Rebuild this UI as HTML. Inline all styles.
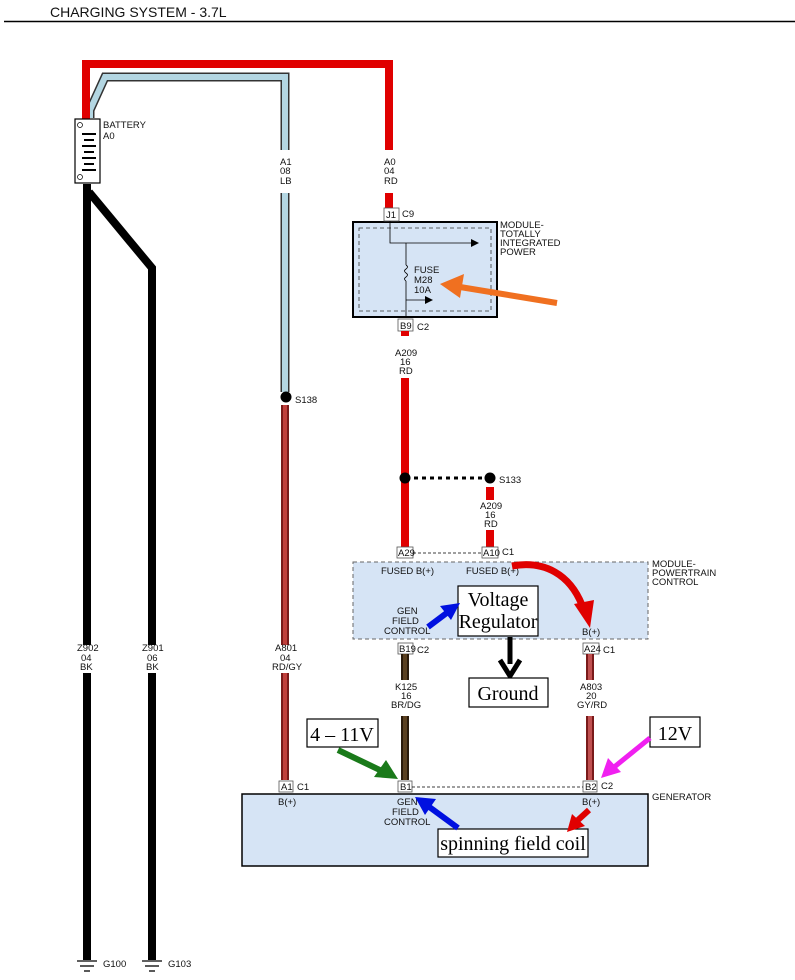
<!DOCTYPE html>
<html><head><meta charset="utf-8"><style>
html,body{margin:0;padding:0;background:#fff;}
svg{display:block;}
text{font-family:"Liberation Sans",sans-serif;font-size:9.5px;fill:#111;}
.s{font-family:"Liberation Serif",serif;font-size:20px;fill:#000;}
</style></head><body>
<svg width="795" height="980" viewBox="0 0 795 980" xmlns="http://www.w3.org/2000/svg">
<defs>
<marker id="ah" markerWidth="8" markerHeight="8" refX="7" refY="4" orient="auto" markerUnits="userSpaceOnUse"><path d="M0,0 L8,4 L0,8 z" fill="#000"/></marker>
</defs>
<text x="50" y="17" style="font-size:14px">CHARGING SYSTEM - 3.7L</text>
<line x1="4" y1="21.5" x2="795" y2="21.5" stroke="#000" stroke-width="1.5"/>

<path d="M90,118 L90,110 L105,77 L285,77 L285,150 M285,193 L285,392" fill="none" stroke="#333" stroke-width="9"/>
<path d="M90,118 L90,110 L105,77 L285,77 L285,150 M285,193 L285,392" fill="none" stroke="#b3d6e2" stroke-width="6"/>
<path d="M86,120 L86,64 L389,64 L389,150 M389,193 L389,208" fill="none" stroke="#e00000" stroke-width="8"/>
<text x="280" y="165">A1</text><text x="280" y="174">08</text><text x="280" y="184">LB</text>
<text x="384" y="165">A0</text><text x="384" y="174">04</text><text x="384" y="184">RD</text>

<rect x="75" y="119" width="25" height="64" fill="#fff" stroke="#000" stroke-width="1.2"/>
<circle cx="80" cy="125" r="2.5" fill="none" stroke="#000" stroke-width="0.7"/>
<circle cx="80" cy="177" r="2.5" fill="none" stroke="#000" stroke-width="0.7"/>
<g stroke="#000" stroke-width="2">
<line x1="82" y1="134" x2="96" y2="134"/><line x1="84" y1="140" x2="94" y2="140"/>
<line x1="82" y1="146" x2="96" y2="146"/><line x1="84" y1="152" x2="94" y2="152"/>
<line x1="82" y1="158" x2="96" y2="158"/><line x1="84" y1="164" x2="94" y2="164"/>
<line x1="82" y1="170" x2="96" y2="170"/></g>
<text x="103" y="128">BATTERY</text><text x="103" y="139">A0</text>

<path d="M87,184 L87,645 M87,673 L87,960 M89,192 L152,268 L152,645 M152,673 L152,960" fill="none" stroke="#000" stroke-width="8"/>
<text x="77" y="651">Z902</text><text x="81" y="661">04</text><text x="80" y="670">BK</text>
<text x="142" y="651">Z901</text><text x="147" y="661">06</text><text x="146" y="670">BK</text>
<g stroke="#000" stroke-width="1.3">
<line x1="77" y1="961" x2="97" y2="961"/><line x1="80" y1="966" x2="94" y2="966"/><line x1="84" y1="971" x2="90" y2="971"/>
<line x1="142" y1="961" x2="162" y2="961"/><line x1="145" y1="966" x2="159" y2="966"/><line x1="149" y1="971" x2="155" y2="971"/></g>
<text x="103" y="967">G100</text><text x="168" y="967">G103</text>

<circle cx="286" cy="397" r="5.5" fill="#000"/>
<text x="295" y="403">S138</text>
<path d="M285,405 L285,645 M285,673 L285,780" fill="none" stroke="#7a1a1a" stroke-width="8"/>
<path d="M285,405 L285,645 M285,673 L285,780" fill="none" stroke="#c0403c" stroke-width="4"/>
<text x="275" y="651">A801</text><text x="280" y="661">04</text><text x="272" y="670">RD/GY</text>

<rect x="353" y="222" width="144" height="95" fill="#d6e4f5" stroke="#000" stroke-width="2"/>
<rect x="359" y="228" width="132" height="83" fill="none" stroke="#333" stroke-width="0.8" stroke-dasharray="4,3"/>
<rect x="384" y="208" width="15" height="13" fill="#fff" stroke="#555" stroke-width="0.8"/>
<text x="386" y="218">J1</text><text x="402" y="217">C9</text>
<path d="M390,221 L390,243 L478,243" fill="none" stroke="#000" stroke-width="0.8" marker-end="url(#ah)"/>
<path d="M406,243 L406,265 M406,281 L406,318" fill="none" stroke="#000" stroke-width="0.8"/>
<path d="M406,265 q3,2 0,4 q-3,2 0,4 q3,2 0,4 q-3,2 0,4" fill="none" stroke="#000" stroke-width="0.8"/>
<path d="M406,300 L432,300" fill="none" stroke="#000" stroke-width="0.8" marker-end="url(#ah)"/>
<text x="414" y="273">FUSE</text><text x="414" y="283">M28</text><text x="414" y="293">10A</text>
<text x="500" y="228">MODULE-</text><text x="500" y="237">TOTALLY</text><text x="500" y="246">INTEGRATED</text><text x="500" y="255">POWER</text>
<rect x="398" y="319" width="15" height="12" fill="#fff" stroke="#555" stroke-width="0.8"/>
<text x="400" y="329">B9</text><text x="417" y="330">C2</text>

<path d="M405,331 L405,336 M405,378 L405,547" fill="none" stroke="#e00000" stroke-width="8"/>
<text x="395" y="356">A209</text><text x="400" y="365">16</text><text x="399" y="374">RD</text>
<circle cx="405" cy="478" r="5.5" fill="#000"/>
<circle cx="490" cy="478" r="5.5" fill="#000"/>
<line x1="414" y1="478" x2="482" y2="478" stroke="#000" stroke-width="3" stroke-dasharray="4,4"/>
<text x="499" y="483">S133</text>
<path d="M490,487 L490,500 M490,530 L490,548" fill="none" stroke="#e00000" stroke-width="8"/>
<text x="480" y="509">A209</text><text x="485" y="518">16</text><text x="484" y="527">RD</text>

<rect x="397" y="547" width="16" height="11" fill="#fff" stroke="#555" stroke-width="0.8"/>
<text x="398" y="556">A29</text>
<rect x="482" y="547" width="16" height="11" fill="#fff" stroke="#555" stroke-width="0.8"/>
<text x="483" y="556">A10</text><text x="502" y="555">C1</text>
<line x1="413" y1="553" x2="482" y2="553" stroke="#000" stroke-width="0.8" stroke-dasharray="3,2"/>
<rect x="353" y="562" width="295" height="77" fill="#d6e4f5" stroke="#666" stroke-width="1" stroke-dasharray="4,3"/>
<text x="381" y="574">FUSED B(+)</text><text x="466" y="574">FUSED B(+)</text>
<text x="397" y="614">GEN</text><text x="392" y="624">FIELD</text><text x="384" y="634">CONTROL</text>
<text x="582" y="635">B(+)</text>
<text x="652" y="567">MODULE-</text><text x="652" y="576">POWERTRAIN</text><text x="652" y="585">CONTROL</text>
<rect x="458" y="586" width="80" height="50" fill="#fff" stroke="#000" stroke-width="1.2"/>
<text class="s" x="498" y="606" text-anchor="middle">Voltage</text>
<text class="s" x="498" y="628" text-anchor="middle">Regulator</text>

<rect x="398" y="643" width="15" height="11" fill="#fff" stroke="#555" stroke-width="0.8"/>
<text x="399" y="652">B19</text><text x="417" y="653">C2</text>
<rect x="583" y="643" width="16" height="11" fill="#fff" stroke="#555" stroke-width="0.8"/>
<text x="584" y="652">A24</text><text x="603" y="653">C1</text>
<path d="M405,654 L405,680 M405,716 L405,780" fill="none" stroke="#2a1a0a" stroke-width="8"/>
<path d="M405,654 L405,680 M405,716 L405,780" fill="none" stroke="#5a4020" stroke-width="4"/>
<text x="395" y="690">K125</text><text x="401" y="699">16</text><text x="391" y="708">BR/DG</text>
<path d="M590,654 L590,680 M590,716 L590,780" fill="none" stroke="#7a1a1a" stroke-width="8"/>
<path d="M590,654 L590,680 M590,716 L590,780" fill="none" stroke="#c05050" stroke-width="4"/>
<text x="580" y="690">A803</text><text x="586" y="699">20</text><text x="577" y="708">GY/RD</text>

<line x1="510" y1="637" x2="510" y2="664" stroke="#000" stroke-width="5"/>
<path d="M500,660 L510,676 L520,660" fill="none" stroke="#000" stroke-width="5"/>
<rect x="469" y="678" width="79" height="29" fill="#fff" stroke="#000" stroke-width="1.2"/>
<text class="s" x="508" y="700" text-anchor="middle">Ground</text>

<rect x="279" y="781" width="14" height="11" fill="#fff" stroke="#555" stroke-width="0.8"/>
<text x="281" y="790">A1</text><text x="297" y="790">C1</text>
<rect x="398" y="781" width="14" height="11" fill="#fff" stroke="#555" stroke-width="0.8"/>
<text x="400" y="790">B1</text>
<rect x="583" y="781" width="14" height="11" fill="#fff" stroke="#555" stroke-width="0.8"/>
<text x="585" y="790">B2</text><text x="601" y="789">C2</text>
<line x1="412" y1="787" x2="583" y2="787" stroke="#000" stroke-width="0.8" stroke-dasharray="3,2"/>
<rect x="242" y="794" width="406" height="72" fill="#d6e4f5" stroke="#000" stroke-width="1.5"/>
<text x="278" y="805">B(+)</text><text x="582" y="805">B(+)</text>
<text x="397" y="805">GEN</text><text x="392" y="815">FIELD</text><text x="384" y="825">CONTROL</text>
<text x="652" y="800">GENERATOR</text>
<rect x="438" y="829" width="150" height="28" fill="#fff" stroke="#000" stroke-width="1.2"/>
<text class="s" x="513" y="850" text-anchor="middle">spinning field coil</text>

<rect x="307" y="719" width="71" height="28" fill="#fff" stroke="#000" stroke-width="1.2"/>
<text class="s" x="342" y="741" text-anchor="middle">4 – 11V</text>
<rect x="650" y="717" width="50" height="30" fill="#fff" stroke="#000" stroke-width="1.2"/>
<text class="s" x="675" y="740" text-anchor="middle">12V</text>

<g stroke-linecap="butt">
<line x1="557" y1="303" x2="460" y2="287" stroke="#f07020" stroke-width="6"/>
<path d="M440,284 L464,274 L460,298 z" fill="#f07020"/>
<line x1="338" y1="750" x2="384" y2="772" stroke="#1a7a1a" stroke-width="6"/>
<path d="M398,779 L374,777 L386,760 z" fill="#1a7a1a"/>
<line x1="650" y1="738" x2="613" y2="768" stroke="#f020f0" stroke-width="5"/>
<path d="M601,778 L608,758 L621,772 z" fill="#f020f0"/>
<line x1="428" y1="627" x2="448" y2="612" stroke="#0010e0" stroke-width="6"/>
<path d="M460,603 L440,606 L451,620 z" fill="#0010e0"/>
<line x1="458" y1="828" x2="428" y2="806" stroke="#0010e0" stroke-width="6"/>
<path d="M415,797 L436,799 L425,815 z" fill="#0010e0"/>
<line x1="589" y1="810" x2="578" y2="820" stroke="#e00000" stroke-width="6"/>
<path d="M567,832 L572,814 L585,826 z" fill="#e00000"/>
<path d="M512,566 C545,560 570,575 582,605" fill="none" stroke="#e00000" stroke-width="7"/>
<path d="M590,628 L574,604 L594,600 z" fill="#e00000"/>
</g>
</svg>
</body></html>
